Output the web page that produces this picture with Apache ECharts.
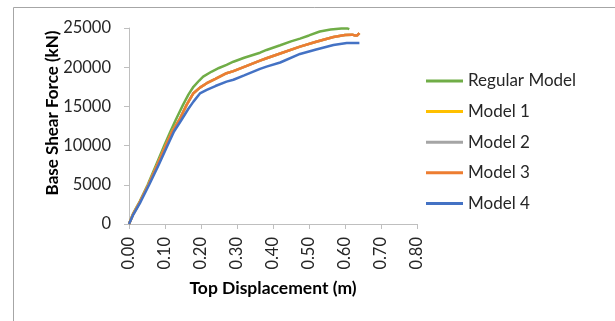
<!DOCTYPE html>
<html>
<head>
<meta charset="utf-8">
<script src="https://cdn.jsdelivr.net/npm/echarts@6/dist/echarts.min.js"></script>
<style>
  html, body { margin: 0; padding: 0; background: #fff; }
  #chart { width: 615px; height: 321px; }
</style>
</head>
<body>
<div id="chart"></div>
<script>
// Pushover curves: [top displacement (m), base shear (kN)]
const seriesNames = ['Regular Model', 'Model 1', 'Model 2', 'Model 3', 'Model 4'];
const seriesColors = ['#70AD47', '#FFC000', '#A5A5A5', '#ED7D31', '#4472C4'];

const regularModel = [
  [0, 0], [0.012, 1400], [0.03, 2900], [0.052, 5000], [0.075, 7500], [0.098, 10000],
  [0.115, 11800], [0.13, 13300], [0.15, 15200], [0.165, 16500], [0.179, 17500],
  [0.195, 18300], [0.206, 18800], [0.23, 19450], [0.25, 19900], [0.271, 20300],
  [0.29, 20700], [0.32, 21200], [0.364, 21850], [0.382, 22200], [0.42, 22800],
  [0.45, 23300], [0.475, 23650], [0.5, 24050], [0.53, 24550], [0.56, 24800],
  [0.59, 24950], [0.606, 24950], [0.609, 24800], [0.612, 24850]
];
const model1 = [
  [0, 0], [0.012, 1300], [0.03, 2800], [0.054, 5000], [0.078, 7500], [0.102, 10000],
  [0.12, 11800], [0.14, 13300], [0.16, 15200], [0.179, 16680], [0.197, 17400],
  [0.216, 17960], [0.24, 18500], [0.271, 19230], [0.29, 19500], [0.32, 20050],
  [0.364, 20840], [0.382, 21140], [0.42, 21750], [0.475, 22620], [0.52, 23250],
  [0.568, 23850], [0.6, 24100], [0.62, 24150], [0.628, 24050], [0.634, 24050], [0.64, 24350]
];
const model2 = [
  [0, 0], [0.012, 1300], [0.03, 2800], [0.054, 5000], [0.078, 7500], [0.102, 10000],
  [0.12, 11800], [0.14, 13300], [0.16, 15200], [0.179, 16680], [0.197, 17400],
  [0.216, 17960], [0.24, 18500], [0.271, 19230], [0.29, 19500], [0.32, 20050],
  [0.364, 20840], [0.382, 21140], [0.42, 21750], [0.475, 22620], [0.52, 23250],
  [0.568, 23850], [0.6, 24100], [0.62, 24150], [0.628, 24050], [0.634, 24050], [0.64, 24350]
];
const model3 = [
  [0, 0], [0.012, 1300], [0.03, 2800], [0.054, 5000], [0.078, 7500], [0.102, 10000],
  [0.12, 11800], [0.14, 13300], [0.16, 15200], [0.179, 16680], [0.197, 17400],
  [0.216, 17960], [0.24, 18500], [0.271, 19230], [0.29, 19500], [0.32, 20050],
  [0.364, 20840], [0.382, 21140], [0.42, 21750], [0.475, 22620], [0.52, 23250],
  [0.568, 23850], [0.6, 24100], [0.62, 24150], [0.628, 24050], [0.634, 24050], [0.64, 24350]
];
const model4 = [
  [0, 0], [0.012, 1200], [0.032, 2800], [0.056, 5000], [0.082, 7500], [0.107, 10000],
  [0.125, 11800], [0.146, 13300], [0.165, 14700], [0.179, 15610], [0.197, 16650],
  [0.216, 17100], [0.24, 17600], [0.271, 18160], [0.29, 18400], [0.32, 18950],
  [0.364, 19780], [0.382, 20070], [0.42, 20600], [0.475, 21690], [0.52, 22250],
  [0.568, 22840], [0.605, 23100], [0.62, 23080], [0.64, 23100]
];
const seriesData = [regularModel, model1, model2, model3, model4];

const FONT = 'Lato, "Open Sans", sans-serif';

const chart = echarts.init(document.getElementById('chart'), null, { renderer: 'canvas' });

chart.setOption({
  animation: false,
  backgroundColor: '#ffffff',
  grid: { left: 129, right: 198, top: 28, bottom: 97, containLabel: false },
  xAxis: {
    type: 'value',
    min: 0, max: 0.8, interval: 0.1,
    axisLine: { show: true, lineStyle: { color: '#bfbfbf', width: 1 } },
    axisTick: { show: true, length: 5, lineStyle: { color: '#bfbfbf' } },
    splitLine: { show: false },
    axisLabel: {
      rotate: 90, margin: 13,
      color: '#262626', fontFamily: FONT, fontSize: 16.5,
      formatter: v => v.toFixed(2)
    }
  },
  yAxis: {
    type: 'value',
    min: 0, max: 25000, interval: 5000,
    axisLine: { show: true, lineStyle: { color: '#bfbfbf', width: 1 } },
    axisTick: { show: true, length: 5, lineStyle: { color: '#bfbfbf' } },
    splitLine: { show: false },
    axisLabel: {
      margin: 18, color: '#262626', fontFamily: FONT, fontSize: 16.5,
      formatter: v => String(v)
    }
  },
  legend: {
    orient: 'vertical',
    left: 426, top: 72, padding: 0,
    itemWidth: 37, itemHeight: 3, itemGap: 12.6,
    icon: 'rect',
    textStyle: { fontFamily: FONT, fontSize: 17, color: '#262626', padding: [0, 0, 0, 0], lineHeight: 18 },
    data: seriesNames
  },
  graphic: [
    {
      type: 'rect', silent: true,
      shape: { x: 13.5, y: 7.5, width: 700, height: 400 },
      style: { fill: 'none', stroke: '#a6a6a6', lineWidth: 1 }
    },
    {
      type: 'text', x: 53, y: 113, rotation: Math.PI / 2,
      style: {
        text: 'Base Shear Force (kN)', fontFamily: FONT, fontWeight: 'bold', fontSize: 17,
        fill: '#000', align: 'center', verticalAlign: 'middle'
      }
    },
    {
      type: 'text', x: 273, y: 288,
      style: {
        text: 'Top Displacement (m)', fontFamily: FONT, fontWeight: 'bold', fontSize: 17.5,
        fill: '#000', align: 'center', verticalAlign: 'middle'
      }
    }
  ],
  series: seriesNames.map((name, i) => ({
    name,
    type: 'line',
    data: seriesData[i],
    showSymbol: false,
    symbol: 'none',
    smooth: false,
    color: seriesColors[i],
    lineStyle: { color: seriesColors[i], width: 2.5 },
    z: 2 + i
  }))
});
</script>
</body>
</html>
